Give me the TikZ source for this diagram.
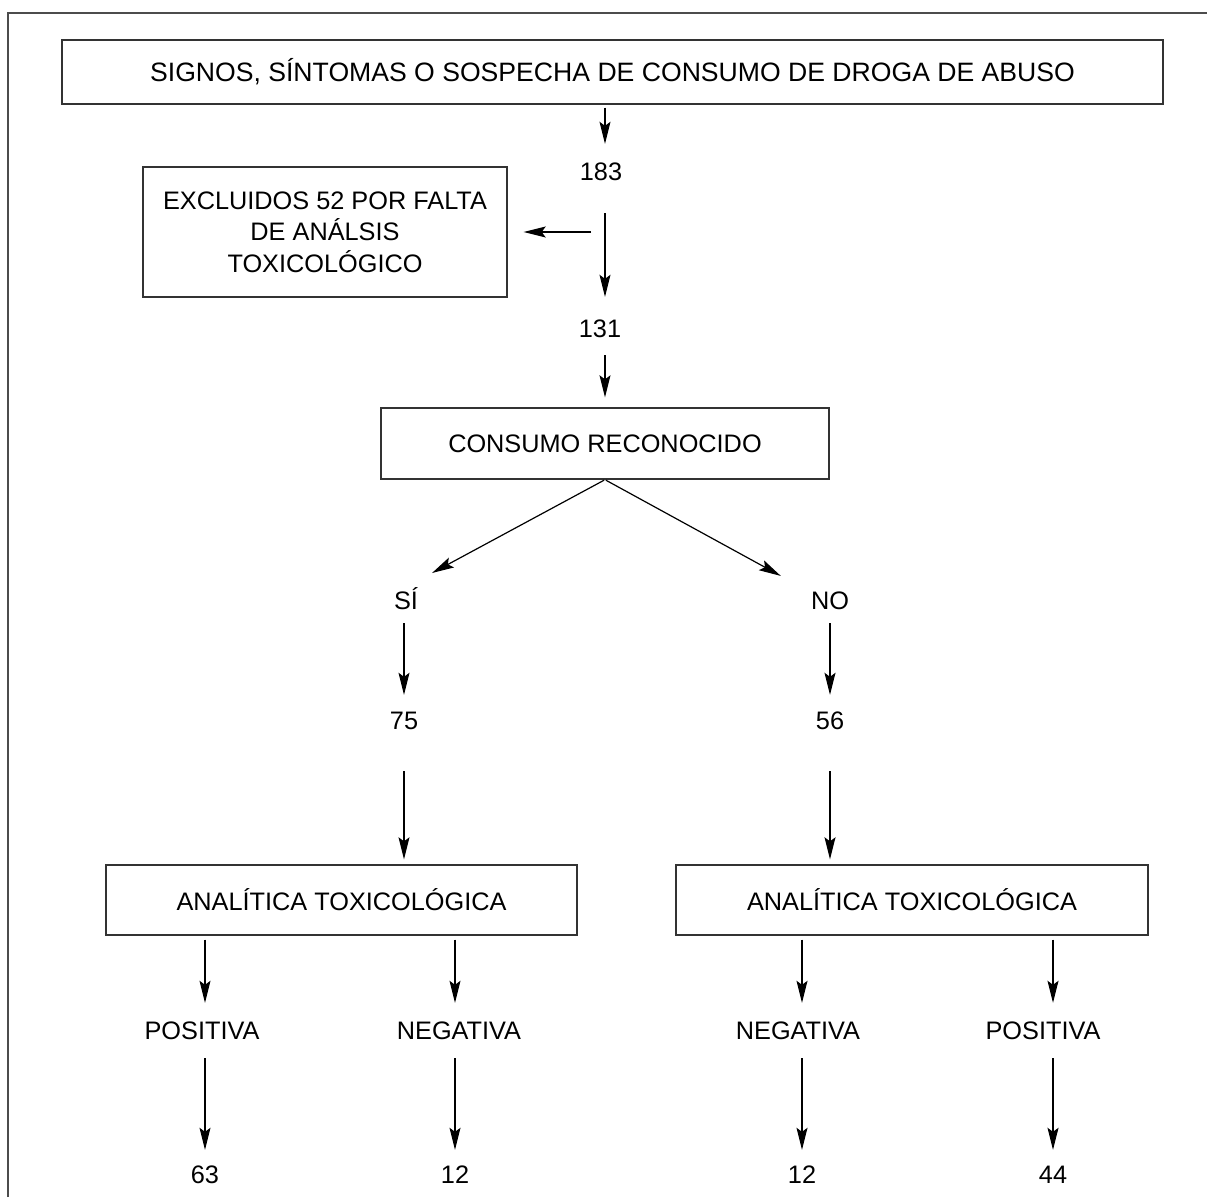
\documentclass[tikz,border=0pt]{standalone}
\usepackage{fontspec}
\setmainfont{Liberation Sans}
\usetikzlibrary{arrows.meta}
\begin{document}
\begin{tikzpicture}[x=1pt,y=-1pt,
  every node/.style={font=\fontsize{25.3}{31.5}\selectfont, text=black},
  boxnode/.style={draw=black!80, line width=1.4pt, inner sep=0pt, align=center},
  lbl/.style={inner sep=0pt, text height=18pt, text depth=0pt, anchor=center},
  arr/.style={draw=black, line width=1.2pt, -{Stealth[length=22pt,width=11pt,inset=4pt]}},
  frame/.style={draw=black!70, line width=1.5pt}]
\useasboundingbox (0,0) rectangle (1207,1197);
\draw[frame] (8,1197) -- (8,13) -- (1207,13);

% nodes
\node[boxnode, minimum width=1101pt, minimum height=64pt, font=\fontsize{26.6}{31.5}\selectfont] (top) at (612.5,72) {SIGNOS, SÍNTOMAS O SOSPECHA DE CONSUMO DE DROGA DE ABUSO};
\node[lbl] (n183) at (601,171) {183};
\node[boxnode, minimum width=364pt, minimum height=130pt] (excl) at (325,232) {EXCLUIDOS 52 POR FALTA\\DE ANÁLSIS\\TOXICOLÓGICO};
\node[lbl] (n131) at (600,328) {131};
\node[boxnode, minimum width=448pt, minimum height=71pt] (cons) at (605,443.5) {CONSUMO RECONOCIDO};
\node[lbl] (si) at (406,600) {SÍ};
\node[lbl] (no) at (830,600) {NO};
\node[lbl] (n75) at (404,720) {75};
\node[lbl] (n56) at (830,720) {56};
\node[boxnode, minimum width=471pt, minimum height=70pt] (anaL) at (341.5,900) {ANALÍTICA TOXICOLÓGICA};
\node[boxnode, minimum width=472pt, minimum height=70pt] (anaR) at (912,900) {ANALÍTICA TOXICOLÓGICA};
\node[lbl] (pos1) at (202,1030) {POSITIVA};
\node[lbl] (neg1) at (459,1030) {NEGATIVA};
\node[lbl] (neg2) at (798,1030) {NEGATIVA};
\node[lbl] (pos2) at (1043,1030) {POSITIVA};
\node[lbl] (n63) at (205,1174) {63};
\node[lbl] (n12a) at (455,1174) {12};
\node[lbl] (n12b) at (802,1174) {12};
\node[lbl] (n44) at (1053,1174) {44};

% connectors
\draw[arr, shorten <=3pt, shorten >=18pt] (top.south -| cons) -- (n183.north -| cons);
\draw[arr, shorten <=33pt, shorten >=22pt] (n183.south -| cons) -- (n131.north -| cons);
\draw[arr, shorten <=14pt, shorten >=16pt] (excl.east -| cons) -- (excl.east);
\draw[arr, shorten <=18pt, shorten >=10pt] (n131.south -| cons) -- (cons.north);
\draw[arr, shorten <=1pt, shorten >=37.5pt] (cons.south) -- ([xshift=-7pt]si.north);
\draw[arr, shorten <=1pt, shorten >=31pt] (cons.south) -- ([xshift=-22pt]no.north);
\draw[arr, shorten <=14pt, shorten >=16pt] (si.south -| n75) -- (n75.north);
\draw[arr, shorten <=14pt, shorten >=16pt] (no.south) -- (n56.north);
\draw[arr, shorten <=42pt, shorten >=5pt] (n75.south) -- (anaL.north -| n75);
\draw[arr, shorten <=42pt, shorten >=5pt] (n56.south) -- (anaR.north -| n56);
\draw[arr, shorten <=4pt, shorten >=18pt] (anaL.south -| n63) -- (pos1.north -| n63);
\draw[arr, shorten <=4pt, shorten >=18pt] (anaL.south -| n12a) -- (neg1.north -| n12a);
\draw[arr, shorten <=4pt, shorten >=18pt] (anaR.south -| n12b) -- (neg2.north -| n12b);
\draw[arr, shorten <=4pt, shorten >=18pt] (anaR.south -| n44) -- (pos2.north -| n44);
\draw[arr, shorten <=19pt, shorten >=15pt] (pos1.south -| n63) -- (n63.north);
\draw[arr, shorten <=19pt, shorten >=15pt] (neg1.south -| n12a) -- (n12a.north);
\draw[arr, shorten <=19pt, shorten >=15pt] (neg2.south -| n12b) -- (n12b.north);
\draw[arr, shorten <=19pt, shorten >=15pt] (pos2.south -| n44) -- (n44.north);
\end{tikzpicture}
\end{document}
